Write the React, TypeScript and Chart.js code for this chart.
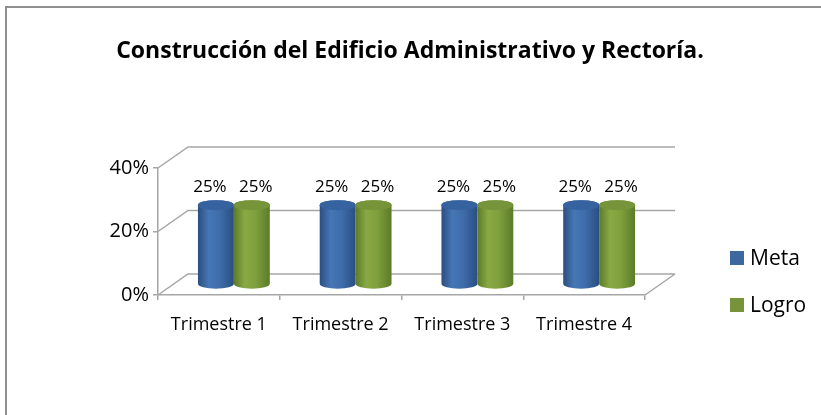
import React, { useEffect, useRef } from "react";
import { Chart, registerables } from "chart.js";

Chart.register(...registerables);

const TITLE = "Construcción del Edificio Administrativo y Rectoría.";
const categories = ["Trimestre 1", "Trimestre 2", "Trimestre 3", "Trimestre 4"];
const metaValues = [0.25, 0.25, 0.25, 0.25];
const logroValues = [0.25, 0.25, 0.25, 0.25];
const seriesNames = ["Meta", "Logro"];
const yTickValues = [0, 0.2, 0.4];

const FONT = "'Open Sans', 'Liberation Sans', sans-serif";
const DX = 30;
const DY = -21;
const GRID = "#a6a6a6";

const palettes = [
  { legend: "#3c689f", edge: "#2b4e80", mid: "#3f6dab", light: "#4676b5", top: "#3762a0" },
  { legend: "#77933c", edge: "#5b7b29", mid: "#7fa03d", light: "#88a944", top: "#76953a" },
];

function cylinder(ctx: CanvasRenderingContext2D, cx: number, top: number, bottom: number, w: number, p: any) {
  const rx = w / 2;
  const ry = 5;
  const g = ctx.createLinearGradient(cx - rx, 0, cx + rx, 0);
  g.addColorStop(0, p.edge);
  g.addColorStop(0.3, p.light);
  g.addColorStop(0.6, p.mid);
  g.addColorStop(1, p.edge);
  ctx.beginPath();
  ctx.moveTo(cx - rx, top);
  ctx.lineTo(cx - rx, bottom);
  ctx.ellipse(cx, bottom, rx, ry, 0, Math.PI, 0, true);
  ctx.lineTo(cx + rx, top);
  ctx.ellipse(cx, top, rx, ry, 0, 0, Math.PI, true);
  ctx.closePath();
  ctx.fillStyle = g;
  ctx.fill();
  ctx.beginPath();
  ctx.ellipse(cx, top, rx, ry, 0, 0, Math.PI * 2);
  ctx.fillStyle = p.top;
  ctx.fill();
}

const decorPlugin = {
  id: "decor",
  beforeDraw(chart: any) {
    const ctx = chart.ctx as CanvasRenderingContext2D;
    ctx.save();
    ctx.fillStyle = "#fff";
    ctx.fillRect(0, 0, chart.width, chart.height);
    ctx.strokeStyle = "#8f8f8f";
    ctx.lineWidth = 2;
    ctx.beginPath();
    ctx.moveTo(6, chart.height);
    ctx.lineTo(6, 7);
    ctx.lineTo(chart.width, 7);
    ctx.stroke();
    ctx.restore();
  },
  beforeDatasetsDraw(chart: any) {
    const ctx = chart.ctx as CanvasRenderingContext2D;
    const x = chart.scales.x;
    const y = chart.scales.y;
    const left = x.left;
    const right = x.right;
    ctx.save();
    ctx.strokeStyle = GRID;
    ctx.lineWidth = 1.5;
    ctx.beginPath();
    for (const v of yTickValues) {
      const py = y.getPixelForValue(v);
      ctx.moveTo(left, py);
      ctx.lineTo(left + DX, py + DY);
      ctx.lineTo(right + DX, py + DY);
    }
    const by = y.getPixelForValue(0);
    ctx.moveTo(right, by);
    ctx.lineTo(right + DX, by + DY);
    ctx.stroke();
    ctx.restore();
  },
  afterDatasetsDraw(chart: any) {
    const ctx = chart.ctx as CanvasRenderingContext2D;
    ctx.save();
    chart.data.datasets.forEach((ds: any, di: number) => {
      const meta = chart.getDatasetMeta(di);
      meta.data.forEach((bar: any, i: number) => {
        const { x, y, base, width } = bar.getProps(["x", "y", "base", "width"], true);
        const cx = x + DX / 2;
        const top = y + DY / 2;
        const bottom = base + DY / 2;
        cylinder(ctx, cx, top, bottom, width, palettes[di]);
        const v = ds.data[i];
        ctx.fillStyle = "#000";
        ctx.font = `17px ${FONT}`;
        ctx.textAlign = "center";
        ctx.textBaseline = "middle";
        ctx.fillText(Math.round(v * 100) + "%", cx + (di === 0 ? -6 : 4), top - 18);
      });
    });
    ctx.restore();
  },
  afterDraw(chart: any) {
    const ctx = chart.ctx as CanvasRenderingContext2D;
    ctx.save();
    ctx.fillStyle = "#000";
    ctx.font = `bold 23px ${FONT}`;
    ctx.textAlign = "center";
    ctx.textBaseline = "middle";
    ctx.fillText(TITLE, 410, 51);
    const ly = [258, 305];
    seriesNames.forEach((n, i) => {
      ctx.fillStyle = palettes[i].legend;
      ctx.fillRect(730, ly[i] - 7, 14, 14);
      ctx.fillStyle = "#000";
      ctx.font = `21px ${FONT}`;
      ctx.textAlign = "left";
      ctx.fillText(n, 750, ly[i] + 1);
    });
    ctx.restore();
  },
};

export default function App() {
  const ref = useRef<HTMLCanvasElement | null>(null);
  useEffect(() => {
    if (!ref.current) return;
    const chart = new Chart(ref.current, {
      type: "bar",
      data: {
        labels: categories,
        datasets: [
          { label: seriesNames[0], data: metaValues, backgroundColor: "rgba(0,0,0,0)", categoryPercentage: 0.59, barPercentage: 1 },
          { label: seriesNames[1], data: logroValues, backgroundColor: "rgba(0,0,0,0)", categoryPercentage: 0.59, barPercentage: 1 },
        ],
      },
      options: {
        responsive: false,
        animation: false,
        devicePixelRatio: 1,
        layout: { padding: { top: 168, right: 176, bottom: 60, left: 0 } },
        plugins: { legend: { display: false }, title: { display: false }, tooltip: { enabled: false } },
        scales: {
          x: {
            offset: true,
            grid: { display: true, drawOnChartArea: false, drawTicks: true, tickLength: 5, offset: true, color: GRID, lineWidth: 1.5 },
            border: { display: true, color: GRID, width: 1.5 },
            ticks: { font: { size: 18, family: FONT }, color: "#000", padding: 14, maxRotation: 0 },
            afterFit: (s: any) => { s.height = 60; },
          },
          y: {
            min: 0,
            max: 0.4,
            grid: { display: true, drawOnChartArea: false, drawTicks: true, tickLength: 5, color: GRID, lineWidth: 1.5 },
            border: { display: true, color: GRID, width: 1.5 },
            ticks: {
              stepSize: 0.2,
              font: { size: 20, family: FONT },
              color: "#000",
              padding: 4,
              callback: (v: any) => Math.round(Number(v) * 100) + "%",
            },
            afterFit: (s: any) => { s.width = 158; },
          },
        },
      },
      plugins: [decorPlugin],
    });
    return () => chart.destroy();
  }, []);
  return (
    <div style={{ position: "absolute", left: 0, top: 0, width: 821, height: 415 }}>
      <canvas ref={ref} width={821} height={415} style={{ width: 821, height: 415 }} />
    </div>
  );
}
